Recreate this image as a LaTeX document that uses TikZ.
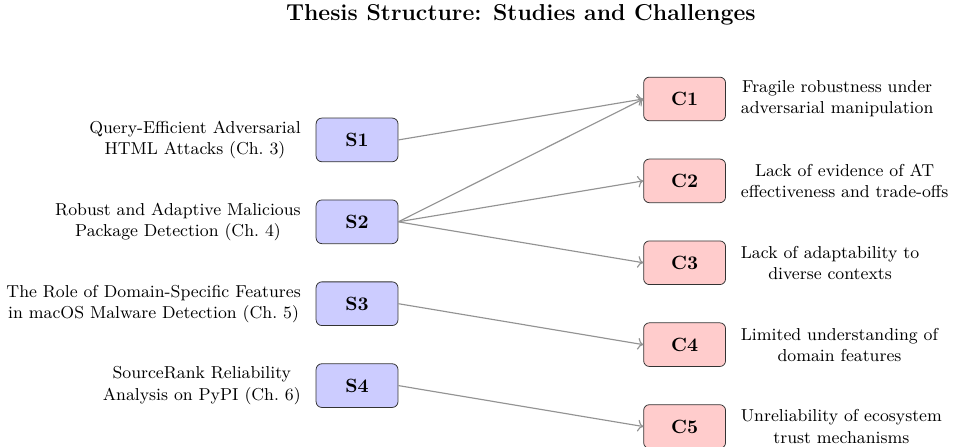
\documentclass[tikz,border=0pt]{standalone}
\usetikzlibrary{positioning,arrows.meta}
\begin{document}
\begin{tikzpicture}[
  box/.style={draw=black!80, rounded corners=3pt, minimum width=1.5cm,
              minimum height=0.8cm, font=\bfseries},
  study/.style={box, fill=blue!20},
  challenge/.style={box, fill=red!20},
  desc/.style={font=\small, align=center},
  link/.style={->, gray!85, semithick}
]
\useasboundingbox (-6.54,-6.374) rectangle (10.916,1.813);

% title
\node[font=\large\bfseries] (title) at (3,1.54) {Thesis Structure: Studies and Challenges};

% studies
\node[study] (S1) at (0,-0.75) {S1};
\node[study] (S2) at (0,-2.25) {S2};
\node[study] (S3) at (0,-3.75) {S3};
\node[study] (S4) at (0,-5.25) {S4};

% challenges
\node[challenge] (C1) at (6,0)    {C1};
\node[challenge] (C2) at (6,-1.5) {C2};
\node[challenge] (C3) at (6,-3)   {C3};
\node[challenge] (C4) at (6,-4.5) {C4};
\node[challenge] (C5) at (6,-6)   {C5};

% study descriptions
\node[desc, left=0.15cm of S1] (dS1) {Query-Efficient Adversarial\\HTML Attacks (Ch.~3)};
\node[desc, left=0.15cm of S2] (dS2) {Robust and Adaptive Malicious\\Package Detection (Ch.~4)};
\node[desc, left=0.15cm of S3] (dS3) {The Role of Domain-Specific Features\\in macOS Malware Detection (Ch.~5)};
\node[desc, left=0.15cm of S4] (dS4) {SourceRank Reliability\\Analysis on PyPI (Ch.~6)};

% challenge descriptions
\node[desc, right=0.15cm of C1] (dC1) {Fragile robustness under\\adversarial manipulation};
\node[desc, right=0.15cm of C2] (dC2) {Lack of evidence of AT\\effectiveness and trade-offs};
\node[desc, right=0.15cm of C3] (dC3) {Lack of adaptability to\\diverse contexts};
\node[desc, right=0.15cm of C4] (dC4) {Limited understanding of\\domain features};
\node[desc, right=0.15cm of C5] (dC5) {Unreliability of ecosystem\\trust mechanisms};

% study -> challenge links
\draw[link] (S1.east) -- (C1.west);
\draw[link] (S2.east) -- (C1.west);
\draw[link] (S2.east) -- (C2.west);
\draw[link] (S2.east) -- (C3.west);
\draw[link] (S3.east) -- (C4.west);
\draw[link] (S4.east) -- (C5.west);
\end{tikzpicture}
\end{document}
